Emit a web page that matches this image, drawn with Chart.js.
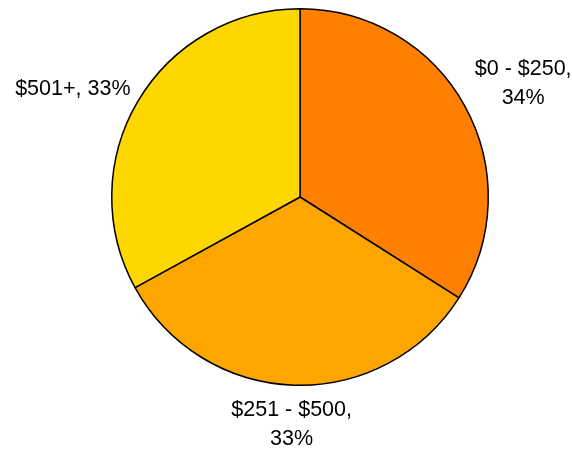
<!DOCTYPE html>
<html>
<head>
<meta charset="utf-8">
<script src="https://cdn.jsdelivr.net/npm/chart.js@4"></script>
<style>
  html, body { margin: 0; padding: 0; background: #ffffff; }
  #wrap { width: 572px; height: 450px; position: relative; }
</style>
</head>
<body>
<div id="wrap"><canvas id="pie-chart"></canvas></div>
<script>
// Data
const categories = ['$0 - $250', '$251 - $500', '$501+'];
const shares = [34, 33, 33];
// label lines as drawn next to each slice
const labelLines = [
    ['$0 - $250,', '34%'],
    ['$251 - $500,', '33%'],
    ['$501+, 33%']
];
const sliceColors = ['#ff7f00', '#ffa500', '#ffd700'];

// Draw the outside labels from the arc geometry
const outsideLabels = {
    id: 'outsideLabels',
    afterDatasetsDraw(chart) {
        const ctx = chart.ctx;
        const meta = chart.getDatasetMeta(0);
        ctx.save();
        ctx.font = '21.5px "Liberation Sans", Arial, sans-serif';
        ctx.fillStyle = '#000000';
        ctx.textAlign = 'center';
        ctx.textBaseline = 'middle';
        const lineH = 29;
        meta.data.forEach((arc, i) => {
            const mid = (arc.startAngle + arc.endAngle) / 2;
            const dx = Math.cos(mid), dy = Math.sin(mid);
            const r = arc.outerRadius + 10;
            const ax = arc.x + dx * r, ay = arc.y + dy * r;
            const lines = labelLines[i];
            const w = Math.max(...lines.map(l => ctx.measureText(l).width));
            const h = lines.length * lineH;
            const cx = ax + dx * (w / 2 + 8);
            const cy = ay + dy * h / 2 - (lines.length > 1 && dy < 0 ? 4 : 0);
            lines.forEach((l, j) => {
                ctx.fillText(l, cx, cy - h / 2 + lineH / 2 + j * lineH);
            });
        });
        ctx.restore();
    }
};

const pieChart = new Chart(document.getElementById('pie-chart'), {
    type: 'pie',
    data: {
        labels: categories,
        datasets: [{
            data: shares,
            backgroundColor: sliceColors,
            borderColor: '#000000',
            borderWidth: 1.5
        }]
    },
    options: {
        responsive: true,
        maintainAspectRatio: false,
        animation: false,
        layout: {
            padding: { top: 8, bottom: 64, left: 111, right: 83 }
        },
        plugins: {
            legend: { display: false },
            tooltip: { enabled: false }
        }
    },
    plugins: [outsideLabels]
});
</script>
</body>
</html>
